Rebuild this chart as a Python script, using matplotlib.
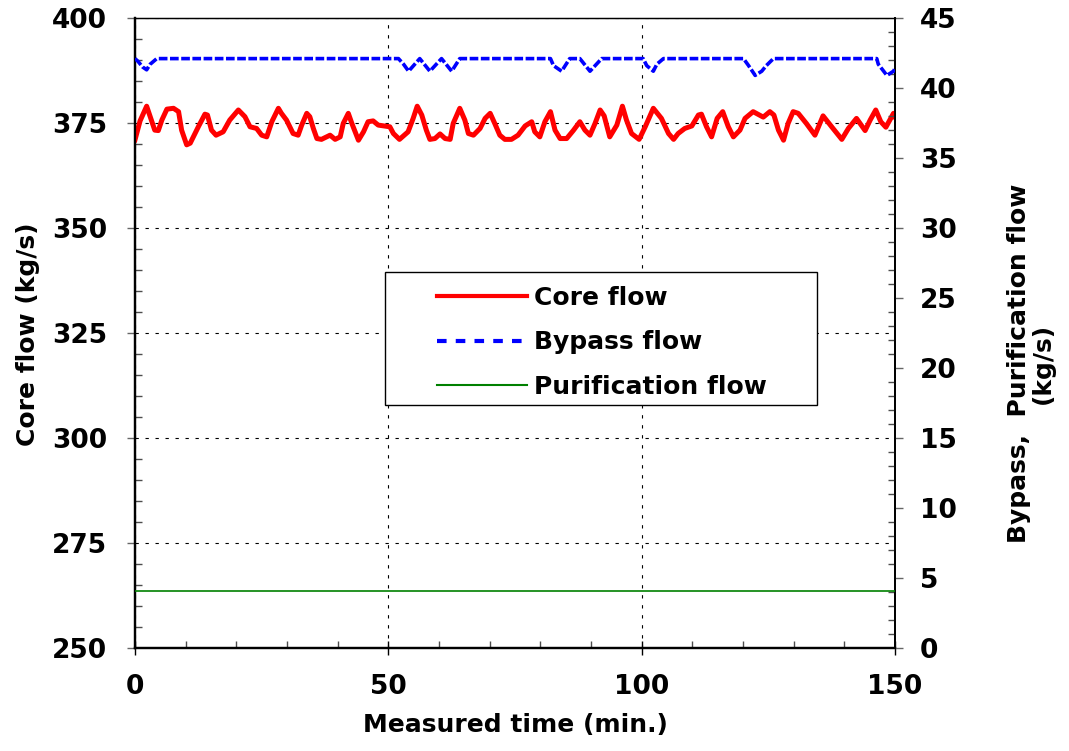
import numpy as np
import matplotlib
matplotlib.use('Agg')
import matplotlib.pyplot as plt
from matplotlib.lines import Line2D
from matplotlib.patches import Rectangle
from matplotlib.ticker import MultipleLocator

plt.rcParams['font.family'] = ['DejaVu Sans']
plt.rcParams['font.weight'] = 'bold'

# core flow (kg/s)
t_core = [0, 1.0, 2.3, 3.9, 4.6, 5.3, 6.3, 7.6, 8.6, 9.2,
          10.2, 10.9, 12.5, 13.8, 14.3, 15.1, 16.0, 17.4, 18.7, 20.4,
          21.7, 22.7, 24.0, 25.0, 26.0, 27.0, 28.3, 28.9, 29.9, 31.2,
          32.2, 32.9, 33.9, 34.5, 35.2, 35.9, 36.8, 38.5, 39.5, 40.5,
          41.1, 42.1, 42.8, 44.1, 45.1, 46.0, 47.0, 48.0, 50.3, 51.0,
          52.2, 53.9, 54.9, 55.7, 56.6, 57.5, 58.2, 59.2, 60.2, 61.2,
          62.2, 62.8, 64.1, 65.1, 65.8, 66.8, 68.1, 69.1, 70.1, 71.0,
          72.0, 73.0, 74.3, 75.6, 77.0, 78.3, 78.9, 79.9, 80.9, 82.0,
          82.9, 83.9, 85.2, 86.5, 87.8, 88.8, 89.8, 90.8, 91.8, 92.6,
          93.7, 95.1, 96.2, 97.0, 98.0, 99.5, 100.7, 102.3, 103.9, 105.3,
          106.3, 107.2, 108.5, 109.9, 111.2, 111.8, 112.8, 113.8, 114.9, 116.0,
          117.1, 118.1, 119.4, 120.4, 122.0, 124.0, 125.3, 126.1, 127.0, 128.0,
          128.9, 129.9, 130.9, 132.5, 134.2, 135.8, 137.5, 139.5, 140.8, 142.4,
          144.1, 145.1, 146.2, 147.2, 148.2, 149.7, 150]
core_flow = [371.0, 375.5, 379.0, 373.3, 373.2, 375.7, 378.3, 378.5, 377.7, 373.3,
             369.8, 370.2, 374.1, 377.1, 376.9, 373.3, 372.1, 372.9, 375.7, 378.1,
             376.5, 374.1, 373.7, 372.1, 371.7, 375.3, 378.5, 377.3, 375.7, 372.5,
             372.1, 374.5, 377.3, 376.5, 373.7, 371.3, 371.1, 372.1, 371.1, 371.7,
             374.9, 377.3, 374.9, 370.9, 372.9, 375.3, 375.5, 374.5, 374.1, 372.5,
             371.1, 372.9, 376.1, 379.0, 376.9, 373.3, 371.1, 371.3, 372.4, 371.3,
             371.1, 374.9, 378.5, 375.7, 372.5, 372.1, 373.7, 376.1, 377.3, 374.9,
             372.1, 371.1, 371.1, 372.1, 374.3, 375.3, 372.9, 371.7, 375.3, 377.7,
             373.3, 371.3, 371.3, 373.2, 375.3, 373.3, 372.1, 374.9, 378.1, 376.7,
             371.7, 374.5, 379.0, 375.7, 372.5, 371.1, 374.1, 378.5, 376.1, 372.5,
             371.1, 372.5, 373.7, 374.3, 376.9, 377.1, 374.1, 371.7, 376.1, 377.7,
             374.1, 371.7, 373.3, 376.1, 377.7, 376.4, 377.7, 376.9, 373.3, 370.9,
             374.9, 377.7, 377.3, 374.9, 372.1, 376.7, 374.1, 371.1, 373.7, 376.1,
             373.2, 375.7, 378.1, 375.3, 374.0, 377.3, 376.5]

# bypass flow (kg/s), right axis
t_bypass = [0, 0.6, 1.5, 2.3, 3.0, 4.3,
            52.0, 53.0, 54.0, 56.2, 58.2, 60.5, 62.5, 64.1,
            82.0, 82.6, 84.2, 85.8, 87.8, 89.8, 92.1,
            100.3, 101.0, 102.3, 103.0, 104.3,
            120.1, 121.1, 122.4, 123.7, 124.6, 126.0,
            146.4, 146.7, 148.4, 149.7, 150]
bypass_flow = [42.1, 41.9, 41.5, 41.3, 41.7, 42.1,
               42.1, 41.7, 41.2, 42.1, 41.2, 42.1, 41.2, 42.1,
               42.1, 41.6, 41.2, 42.1, 42.1, 41.2, 42.1,
               42.1, 41.6, 41.2, 41.7, 42.1,
               42.1, 41.6, 40.9, 41.2, 41.6, 42.1,
               42.1, 41.7, 40.9, 41.2, 41.4]

# purification flow (kg/s), right axis
t_purif = [0, 150]
purif_flow = [4.1, 4.1]

fig = plt.figure(figsize=(10.69, 7.51), dpi=100)
ax = fig.add_axes([135/1069, 1-648/751, 760/1069, 630/751])
ax2 = ax.twinx()

ax.plot(t_core, core_flow, color='red', lw=3.6, zorder=3)
ax2.plot(t_bypass, bypass_flow, color='blue', lw=2.6, dashes=(2.4, 0.7), zorder=3)
ax2.plot(t_purif, purif_flow, color='green', lw=1.2, zorder=3)

ax.set_xlim(0, 150)
ax.set_ylim(250, 400)
ax2.set_ylim(0, 45)
ax.set_xticks([0, 50, 100, 150])
ax.set_yticks(np.arange(250, 401, 25))
ax2.set_yticks(np.arange(0, 46, 5))
ax.xaxis.set_minor_locator(MultipleLocator(10))
ax.yaxis.set_minor_locator(MultipleLocator(5))
ax2.yaxis.set_minor_locator(MultipleLocator(1))

ax.grid(True, which='major', color='black', linestyle=(0, (3, 6)), lw=0.8)

tfont = 19
ax.tick_params(axis='y', which='major', direction='out', length=6, width=1,
               color='0.4', labelsize=tfont, pad=14)
ax.tick_params(axis='y', which='minor', direction='in', length=5, width=1, color='0.3')
ax.tick_params(axis='x', which='major', direction='inout', length=10, width=1,
               labelsize=tfont, pad=14)
ax.tick_params(axis='x', which='minor', direction='in', length=5, width=1, color='0.3')
ax2.tick_params(axis='y', which='major', direction='out', length=6, width=1,
                color='0.4', labelsize=tfont, pad=12)
ax2.tick_params(axis='y', which='minor', direction='in', length=5, width=1, color='0.3')

for a in [ax, ax2]:
    a.spines['left'].set_linewidth(1.6)
    a.spines['bottom'].set_linewidth(1.6)
    a.spines['right'].set_linewidth(1.3)
    a.spines['top'].set_linewidth(0.9)

ax.set_xlabel('Measured time (min.)', fontsize=18, fontweight='bold', labelpad=9)
fig.text(28/1069, 1-334/751, 'Core flow (kg/s)', rotation=90, ha='center',
         va='center', fontsize=18, fontweight='bold')
fig.text(1031/1069, 1-363/751, 'Bypass,  Purification flow\n(kg/s)', rotation=90,
         ha='center', va='center', multialignment='center', fontsize=18,
         fontweight='bold', linespacing=1.0)

# legend frame and entries
box = Rectangle((0.329, 0.386), 0.568, 0.211, transform=ax2.transAxes,
                facecolor='white', edgecolor='black', lw=1.0, zorder=5)
ax2.add_patch(box)
handles = [Line2D([], [], color='red', lw=3.0),
           Line2D([], [], color='blue', lw=3.0, dashes=(2.3, 2.2)),
           Line2D([], [], color='green', lw=1.5)]
labels = ['Core flow', 'Bypass flow', 'Purification flow']
leg = ax2.legend(handles, labels, loc='upper left', bbox_to_anchor=(0.397, 0.575),
                 frameon=False, fontsize=18, handlelength=3.6, handletextpad=0.3,
                 labelspacing=0.82, borderpad=0, borderaxespad=0)
leg.set_zorder(6)

fig.savefig('out.png', dpi=100)
